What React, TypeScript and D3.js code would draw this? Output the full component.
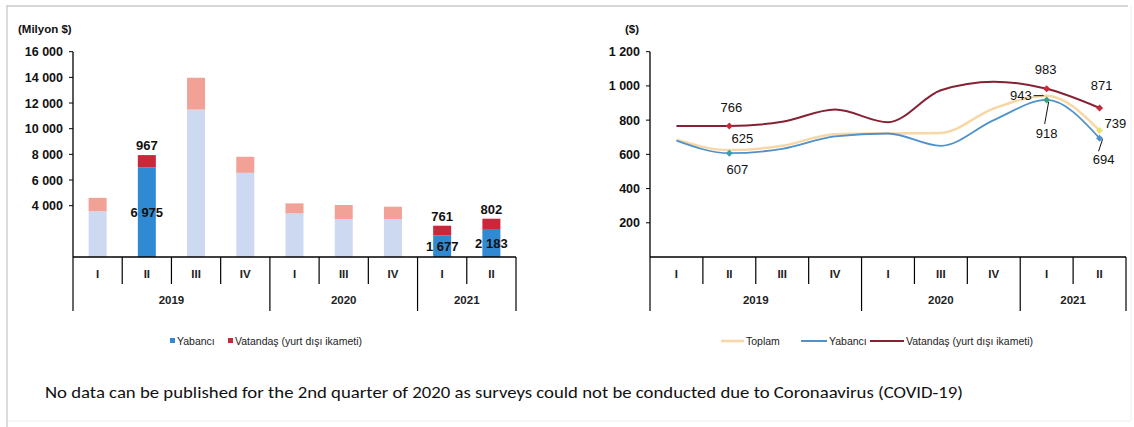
import React from "react";
import * as d3 from "d3";

// Quarter categories shared by both panels (no survey in 2020 Q2)
const quarters = ["I", "II", "III", "IV", "I", "III", "IV", "I", "II"];
const years = [
  { label: "2019", start: 0, end: 4 },
  { label: "2020", start: 4, end: 7 },
  { label: "2021", start: 7, end: 9 },
];

// Tourism income, million $
const incomeForeign = [3560, 6975, 11490, 6560, 3400, 2960, 2960, 1677, 2183];
const incomeCitizen = [1050, 967, 2480, 1250, 780, 1090, 960, 761, 802];
// Quarters whose bars are drawn in full colour and labelled
const incomeHighlighted = [1, 7, 8];
const incomeTicks = [4000, 6000, 8000, 10000, 12000, 14000, 16000];

// Average spending per visitor, $
const spendTotal = [685, 625, 650, 718, 722, 725, 868, 943, 739];
const spendForeign = [680, 607, 632, 705, 722, 650, 800, 918, 694];
const spendCitizen = [765, 766, 790, 862, 788, 975, 1025, 983, 871];
const spendTicks = [200, 400, 600, 800, 1000, 1200];

const fmt = d3
  .formatLocale({ decimal: ",", thousands: " ", grouping: [3], currency: ["", ""] })
  .format(",d");

const NARROW = "'Liberation Sans Narrow', 'Arial Narrow', 'Liberation Sans', Arial, sans-serif";

const C = {
  blue: "#2f8ad3",
  red: "#c9283a",
  lightBlue: "#cdd9f1",
  lightRed: "#f2a196",
  lineTotal: "#f8d7a6",
  lineForeign: "#4f92cb",
  lineCitizen: "#862033",
};

const AXIS_Y = 257;
const idx = quarters.map((_, i) => i);

function CategoryAxis({ x }: { x: d3.ScaleBand<number> }) {
  const bw = x.bandwidth();
  const yearEdges = new Set<number>();
  years.forEach((y) => {
    yearEdges.add(y.start);
    yearEdges.add(y.end);
  });
  const [r0, r1] = x.range();
  return (
    <g>
      <line x1={r0} x2={r1} y1={AXIS_Y} y2={AXIS_Y} stroke="#000" strokeWidth={1.5} />
      {d3.range(0, quarters.length + 1).map((k) => {
        const px = r0 + k * bw;
        const long = yearEdges.has(k);
        return (
          <line key={"s" + k} x1={px} x2={px} y1={AXIS_Y} y2={long ? 311 : 284} stroke="#000" strokeWidth={1.2} />
        );
      })}
      {quarters.map((q, i) => (
        <text key={"q" + i} x={(x(i) as number) + bw / 2} y={278} textAnchor="middle" fontFamily={NARROW} fontSize={11.5} fontWeight="bold" fill="#222">
          {q}
        </text>
      ))}
      {years.map((y) => (
        <text key={y.label} x={r0 + ((y.start + y.end) / 2) * bw} y={304} textAnchor="middle" fontFamily={NARROW} fontSize={11.5} fontWeight="bold" fill="#222">
          {y.label}
        </text>
      ))}
    </g>
  );
}

function ValueAxis({ y, x0, ticks }: { y: d3.ScaleLinear<number, number>; x0: number; ticks: number[] }) {
  const top = y(d3.max(ticks) as number);
  return (
    <g>
      <line x1={x0} x2={x0} y1={top} y2={AXIS_Y} stroke="#000" strokeWidth={1.3} />
      {ticks.map((t) => (
        <g key={t}>
          <line x1={x0 - 4} x2={x0} y1={y(t)} y2={y(t)} stroke="#000" />
          <text x={x0 - 10} y={y(t) + 4.5} textAnchor="end" fontFamily={NARROW} fontSize={12.5} fontWeight="bold" fill="#111">
            {fmt(t)}
          </text>
        </g>
      ))}
    </g>
  );
}

function IncomeChart() {
  const x = d3.scaleBand<number>().domain(idx).range([73, 516]);
  const y = d3.scaleLinear().domain([0, 16000]).range([AXIS_Y, 51.7]);
  const bw = 18;
  return (
    <g>
      <text x={18} y={33} fontFamily={NARROW} fontSize={11.5} fontWeight="bold" fill="#111">
        (Milyon $)
      </text>
      {idx.map((i) => {
        const hl = incomeHighlighted.includes(i);
        const cx = (x(i) as number) + x.bandwidth() / 2;
        const f = incomeForeign[i];
        const c = incomeCitizen[i];
        return (
          <g key={i}>
            <rect x={cx - bw / 2} y={y(f)} width={bw} height={y(0) - y(f)} fill={hl ? C.blue : C.lightBlue} />
            <rect x={cx - bw / 2} y={y(f + c)} width={bw} height={y(f) - y(f + c)} fill={hl ? C.red : C.lightRed} />
            {hl && (
              <>
                <text x={cx} y={y(f + c) - 5} textAnchor="middle" fontFamily={NARROW} fontSize={13} fontWeight="bold" fill="#111">
                  {fmt(c)}
                </text>
                <text x={cx} y={y(f / 2) + 5} textAnchor="middle" fontFamily={NARROW} fontSize={13} fontWeight="bold" fill="#111">
                  {fmt(f)}
                </text>
              </>
            )}
          </g>
        );
      })}
      <ValueAxis y={y} x0={73} ticks={incomeTicks} />
      <CategoryAxis x={x} />
      {/* legend */}
      <rect x={170} y={338} width={5} height={5} fill={C.blue} />
      <text x={177} y={344.5} fontFamily={NARROW} fontSize={10.5} fill="#222">Yabancı</text>
      <rect x={228} y={338} width={5} height={5} fill={C.red} />
      <text x={235} y={344.5} fontFamily={NARROW} fontSize={10.5} fill="#222">Vatandaş (yurt dışı ikameti)</text>
    </g>
  );
}

function SpendingChart() {
  const x = d3.scaleBand<number>().domain(idx).range([650, 1126]);
  const y = d3.scaleLinear().domain([0, 1200]).range([AXIS_Y, 51.7]);
  const cx = (i: number) => (x(i) as number) + x.bandwidth() / 2;
  const line = d3
    .line<number>()
    .x((_, i) => cx(i))
    .y((v) => y(v))
    .curve(d3.curveMonotoneX);

  const diamond = (px: number, py: number, color: string, key: string) => (
    <path key={key} d={`M${px},${py - 3.5}L${px + 3.5},${py}L${px},${py + 3.5}L${px - 3.5},${py}Z`} fill={color} />
  );
  const lab = (t: string, px: number, py: number, key: string, anchor = "middle") => (
    <text key={key} x={px} y={py} textAnchor={anchor} fontFamily={NARROW} fontSize={13} fill="#111">
      {t}
    </text>
  );

  return (
    <g>
      <text x={625} y={33} fontFamily={NARROW} fontSize={11.5} fontWeight="bold" fill="#111">
        ($)
      </text>
      <path d={line(spendTotal) || ""} fill="none" stroke={C.lineTotal} strokeWidth={2.5} />
      <path d={line(spendForeign) || ""} fill="none" stroke={C.lineForeign} strokeWidth={1.8} />
      <path d={line(spendCitizen) || ""} fill="none" stroke={C.lineCitizen} strokeWidth={2} />

      {/* markers on the labelled quarters */}
      {diamond(cx(1), y(spendCitizen[1]), C.red, "m1")}
      {diamond(cx(1), y(spendForeign[1]), "#3a9fb0", "m2")}
      {diamond(cx(7), y(spendCitizen[7]), C.red, "m3")}
      {diamond(cx(7), y(spendForeign[7]), "#3aa080", "m4")}
      {diamond(cx(8), y(spendCitizen[8]), C.red, "m5")}
      {diamond(cx(8), y(spendTotal[8]), "#e8e070", "m6")}
      {diamond(cx(8), y(spendForeign[8]), C.lineForeign, "m7")}

      {/* 2019 Q2 labels */}
      {lab(fmt(spendCitizen[1]), cx(1) + 2, y(spendCitizen[1]) - 14, "l1")}
      {lab(fmt(spendTotal[1]), cx(1) + 13, y(spendTotal[1]) - 7, "l2")}
      {lab(fmt(spendForeign[1]), cx(1) + 8, y(spendForeign[1]) + 21, "l3")}

      {/* 2021 Q1 labels */}
      {lab(fmt(spendCitizen[7]), cx(7) - 1, y(spendCitizen[7]) - 15, "l4")}
      {lab(fmt(spendTotal[7]), cx(7) - 15, y(spendTotal[7]) + 4, "l5", "end")}
      <line x1={cx(7) - 13} x2={cx(7) - 3} y1={y(spendTotal[7])} y2={y(spendTotal[7])} stroke="#111" strokeWidth={1} />
      {lab(fmt(spendForeign[7]), cx(7), y(spendForeign[7]) + 38, "l6")}
      <line x1={cx(7) - 2} x2={cx(7) + 2} y1={y(spendForeign[7]) + 24} y2={y(spendForeign[7]) + 2} stroke="#111" strokeWidth={1} />

      {/* 2021 Q2 labels */}
      {lab(fmt(spendCitizen[8]), cx(8) + 2, y(spendCitizen[8]) - 18, "l7")}
      {lab(fmt(spendTotal[8]), cx(8) + 5, y(spendTotal[8]) - 3, "l8", "start")}
      {lab(fmt(spendForeign[8]), cx(8) + 4, y(spendForeign[8]) + 26, "l9")}
      <line x1={cx(8) - 1} x2={cx(8) + 3} y1={y(spendForeign[8]) + 13} y2={y(spendForeign[8]) + 1} stroke="#111" strokeWidth={1} />

      <ValueAxis y={y} x0={650} ticks={spendTicks} />
      <CategoryAxis x={x} />

      {/* legend */}
      <line x1={721} x2={744} y1={341} y2={341} stroke={C.lineTotal} strokeWidth={2.5} />
      <text x={746} y={344.5} fontFamily={NARROW} fontSize={10.5} fill="#222">Toplam</text>
      <line x1={801} x2={827} y1={341} y2={341} stroke={C.lineForeign} strokeWidth={2} />
      <text x={829} y={344.5} fontFamily={NARROW} fontSize={10.5} fill="#222">Yabancı</text>
      <line x1={870} x2={904} y1={341} y2={341} stroke={C.lineCitizen} strokeWidth={2} />
      <text x={906} y={344.5} fontFamily={NARROW} fontSize={10.5} fill="#222">Vatandaş (yurt dışı ikameti)</text>
    </g>
  );
}

export default function App() {
  return (
    <svg width={1134} height={427} style={{ position: "absolute", left: 0, top: 0, background: "#fff" }}>
      <rect width={1134} height={427} fill="#fff" />
      {/* outer frame */}
      <line x1={6} x2={1128} y1={6} y2={6} stroke="#c8c8c8" strokeWidth={1.5} />
      <line x1={7} x2={7} y1={6} y2={427} stroke="#cfcfcf" strokeWidth={1.5} />
      <line x1={1131} x2={1131} y1={6} y2={420} stroke="#eeeeee" strokeWidth={1} />
      <line x1={7} x2={1131} y1={421} y2={421} stroke="#ededed" strokeWidth={1} />

      <IncomeChart />
      <SpendingChart />

      <text x={45} y={398} fontFamily="Carlito, Calibri, Lato, 'Open Sans', sans-serif" fontSize={15.5} fill="#111" textLength={918} lengthAdjust="spacingAndGlyphs">
        No data can be published for the 2nd quarter of 2020 as surveys could not be conducted due to Coronaavirus (COVID-19)
      </text>
    </svg>
  );
}
